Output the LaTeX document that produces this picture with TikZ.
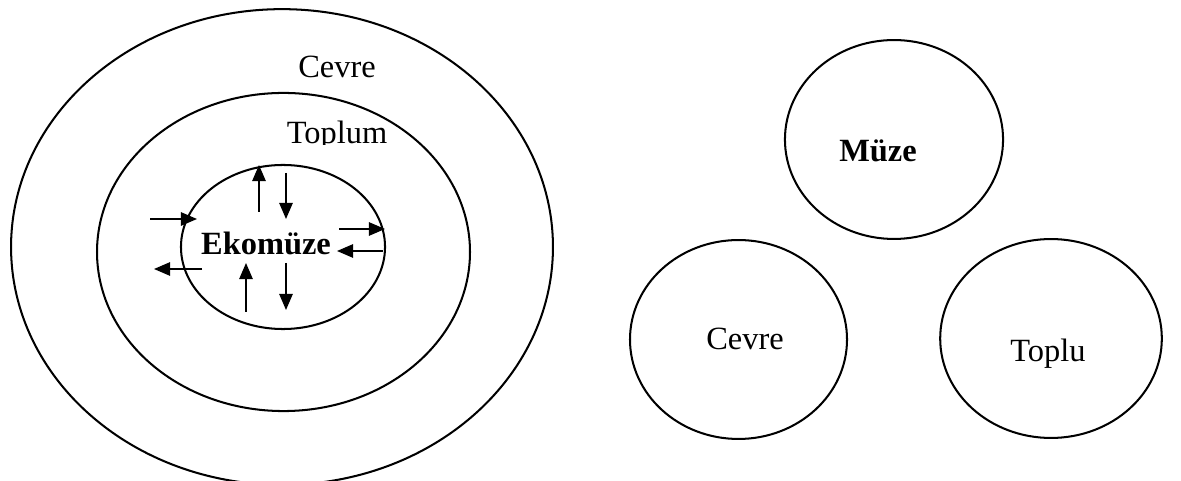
\documentclass[tikz,border=0pt]{standalone}
\usepackage{fontspec}
\setmainfont{Liberation Serif}
\usetikzlibrary{arrows.meta, shapes.geometric}

\begin{document}
\begin{tikzpicture}[
  x=0.37pt, y=-0.37pt,
  ring/.style={draw, ellipse, line width=0.75pt, inner sep=0pt},
  lbl/.style={anchor=base, inner sep=0pt, font=\fontsize{12}{14}\selectfont},
  blbl/.style={lbl, font=\fontsize{12}{14}\selectfont\bfseries},
  arr/.style={-{Triangle[length=6pt, width=5pt]}, line width=0.6pt}
]
  \useasboundingbox (0,0) rectangle (1181,481);

  % left: nested rings
  \node[ring, minimum width=200.5pt, minimum height=176pt] (cevreRing)  at (282,247) {};
  \node[ring, minimum width=138pt,   minimum height=117.7pt] (toplumRing) at (283.5,252) {};
  \node[ring, minimum width=75.5pt,  minimum height=60.7pt] (ekoRing)    at (283,247) {};

  \node[lbl]  (cevreTxt) at (337,78)  {Cevre};
  \begin{scope}
    \clip (0,0) rectangle (1181,145);
    \node[lbl] (toplumTxt) at (337,144) {Toplum};
  \end{scope}
  \node[blbl] (ekoTxt) at (266,255) {Ekomüze};

  % arrows in and out of the inner ring
  \coordinate (up1s) at (259,212);  \coordinate (up1e) at (259,165);
  \coordinate (dn1s) at (286,173);  \coordinate (dn1e) at (286,219);
  \coordinate (in1s) at (150,219);  \coordinate (in1e) at (197,219);
  \coordinate (out1s) at (339,229); \coordinate (out1e) at (385,229);
  \coordinate (in2s) at (383,251);  \coordinate (in2e) at (337,251);
  \coordinate (out2s) at (202,269); \coordinate (out2e) at (154,269);
  \coordinate (up2s) at (246,312);  \coordinate (up2e) at (246,263);
  \coordinate (dn2s) at (286,263);  \coordinate (dn2e) at (286,310);

  \draw[arr] (up1s)  -- (up1e);
  \draw[arr] (dn1s)  -- (dn1e);
  \draw[arr] (in1s)  -- (in1e);
  \draw[arr] (out1s) -- (out1e);
  \draw[arr] (in2s)  -- (in2e);
  \draw[arr] (out2s) -- (out2e);
  \draw[arr] (up2s)  -- (up2e);
  \draw[arr] (dn2s)  -- (dn2e);

  % right: three separate circles
  \node[ring, minimum width=80.7pt, minimum height=73.6pt] (muzeRing)   at (894,139.5) {};
  \node[ring, minimum width=80.3pt, minimum height=73.6pt] (cevreRing2) at (738.5,339.5) {};
  \node[ring, minimum width=82pt,   minimum height=73.6pt] (topluRing)  at (1051,338.5) {};

  \node[blbl] (muzeTxt)   at (878,162)  {Müze};
  \node[lbl]  (cevreTxt2) at (745,350)  {Cevre};
  \node[lbl]  (topluTxt)  at (1048,362) {Toplu};
\end{tikzpicture}
\end{document}
